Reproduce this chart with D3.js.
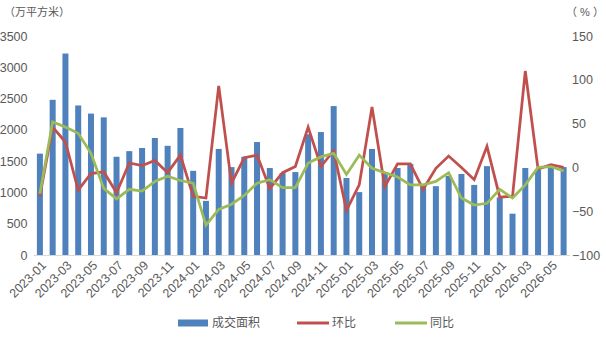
<!DOCTYPE html>
<html>
<head>
<meta charset="utf-8">
<script src="https://cdn.jsdelivr.net/npm/d3@7"></script>
<style>
  body { margin: 0; background: #fff; }
  svg text { font-family: "Liberation Sans", "Noto Sans CJK SC", sans-serif; fill: #595959; }
</style>
</head>
<body>
<svg id="chart" width="606" height="341"></svg>
<script>
// months 2023-01 .. 2026-06
const months = [];
for (let y = 2023; y <= 2026; y++) {
  for (let m = 1; m <= 12; m++) {
    if (y === 2026 && m > 6) break;
    months.push(y + '-' + String(m).padStart(2, '0'));
  }
}

// 成交面积 (万平方米)
const area = [
  1620, 2480, 3220, 2390, 2260, 2200, 1570, 1660, 1710, 1870, 1745, 2030,
  1345, 865, 1695, 1405, 1570, 1805, 1390, 1310, 1325, 1930, 1965, 2380,
  1230, 1005, 1695, 1325, 1390, 1455, 1100, 1100, 1265, 1295, 1120, 1420,
  920, 660, 1390, 1360, 1390, 1405
];

// 环比 (%)
const mom = [
  -33, 46, 29, -26, -7, -5, -29, 5, 2, 8, -6, 14,
  -33, -35, 93, -18, 11, 14, -24, -6, 1, 46, 1, 19,
  -49, -20, 69, -22, 4, 4, -25, -1, 13, 0, -14, 24,
  -34, -33, 110, -2, 3, 0
];

// 同比 (%)
const yoy = [
  -30, 52, 46, 39, 16, -24, -36, -25, -27, -16, -10, -15,
  -18, -66, -48, -42, -32, -18, -14, -23, -23, 5, 12, 16,
  -8, 14, -1, -6, -11, -20, -20, -16, -6, -35, -43, -41,
  -25, -35, -20, 0, 1, -4
];

const leftTicks = [0, 500, 1000, 1500, 2000, 2500, 3000, 3500];
const rightTicks = [-100, -50, 0, 50, 100, 150];

const svg = d3.select('#chart');
const plot = { left: 33.5, right: 570, top: 36, bottom: 255 };

const x = d3.scaleBand()
  .domain(months)
  .range([plot.left, plot.right])
  .paddingInner(0.53)
  .paddingOuter(0.265);

const yL = d3.scaleLinear().domain([0, 3500]).range([plot.bottom, plot.top]);
const yR = d3.scaleLinear().domain([-100, 150]).range([plot.bottom, plot.top]);

const cx = d => x(d) + x.bandwidth() / 2;

// bars
svg.append('g')
  .selectAll('rect')
  .data(months)
  .enter().append('rect')
  .attr('x', d => x(d))
  .attr('width', x.bandwidth())
  .attr('y', (d, i) => yL(area[i]))
  .attr('height', (d, i) => yL(0) - yL(area[i]))
  .attr('fill', '#4F81BD');

// x axis line
svg.append('line')
  .attr('x1', plot.left).attr('x2', plot.right)
  .attr('y1', plot.bottom + 0.5).attr('y2', plot.bottom + 0.5)
  .attr('stroke', '#d9d9d9').attr('stroke-width', 1);

// lines
const line = vals => d3.line()
  .x((d, i) => cx(months[i]))
  .y(d => yR(d))(vals);

svg.append('path')
  .attr('d', line(mom))
  .attr('fill', 'none')
  .attr('stroke', '#C0504D')
  .attr('stroke-width', 2.75);

svg.append('path')
  .attr('d', line(yoy))
  .attr('fill', 'none')
  .attr('stroke', '#9BBB59')
  .attr('stroke-width', 2.75);

// left axis
const axL = d3.axisLeft(yL).tickValues(leftTicks).tickFormat(d3.format('d')).tickSize(0).tickPadding(6);
svg.append('g')
  .attr('transform', 'translate(' + plot.left + ',0)')
  .call(axL)
  .call(g => g.select('.domain').remove())
  .selectAll('text')
  .style('font-size', '12.5px')
  .attr('fill', '#595959');

// right axis
const axR = d3.axisRight(yR).tickValues(rightTicks).tickSize(0).tickPadding(2);
svg.append('g')
  .attr('transform', 'translate(' + plot.right + ',0)')
  .call(axR)
  .call(g => g.select('.domain').remove())
  .selectAll('text')
  .style('font-size', '12.5px')
  .attr('fill', '#595959');

// x labels, every other month
svg.append('g')
  .selectAll('text')
  .data(months.filter((d, i) => i % 2 === 0))
  .enter().append('text')
  .attr('transform', d => 'translate(' + (cx(d) + 4) + ',' + (plot.bottom + 8) + ') rotate(-45)')
  .attr('text-anchor', 'end')
  .attr('dy', '0.35em')
  .style('font-size', '12.5px')
  .text(d => d);

// unit labels
svg.append('text')
  .attr('x', 4).attr('y', 16)
  .style('font-size', '11px')
  .text('（万平方米）');

svg.append('text')
  .attr('x', 566).attr('y', 16)
  .style('font-size', '11px')
  .text('（ % ）');

// legend
const legend = [
  { name: '成交面积', color: '#4F81BD', type: 'rect', x: 178 },
  { name: '环比', color: '#C0504D', type: 'line', x: 297 },
  { name: '同比', color: '#9BBB59', type: 'line', x: 395 }
];
const ly = 323;
const lg = svg.append('g');
legend.forEach(d => {
  if (d.type === 'rect') {
    lg.append('rect')
      .attr('x', d.x).attr('y', ly - 3.5)
      .attr('width', 30).attr('height', 7)
      .attr('fill', d.color);
  } else {
    lg.append('line')
      .attr('x1', d.x).attr('x2', d.x + 32)
      .attr('y1', ly).attr('y2', ly)
      .attr('stroke', d.color).attr('stroke-width', 3);
  }
  lg.append('text')
    .attr('x', d.x + (d.type === 'rect' ? 34 : 35))
    .attr('y', ly)
    .attr('dy', '0.35em')
    .style('font-size', '12px')
    .text(d.name);
});
</script>
</body>
</html>
